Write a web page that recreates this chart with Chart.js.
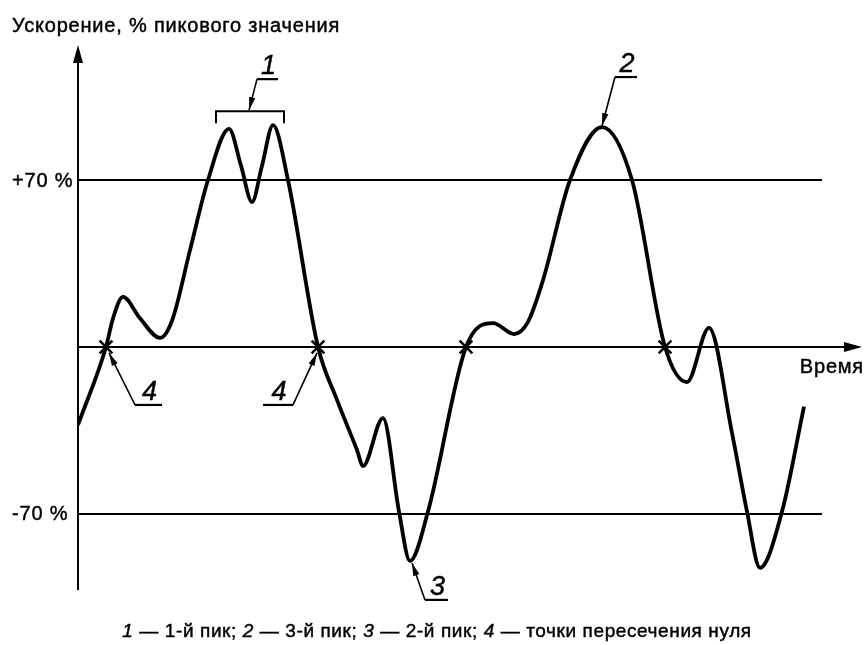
<!DOCTYPE html>
<html>
<head>
<meta charset="utf-8">
<script src="https://cdn.jsdelivr.net/npm/chart.js@4"></script>
<style>
  html, body { margin: 0; padding: 0; background: #fff; }
  #wrap { width: 864px; height: 645px; position: relative; }
</style>
</head>
<body>
<div id="wrap"><canvas id="accelChart" width="864" height="645"></canvas></div>
<script>
// Time (arbitrary units) and acceleration, % of peak value
const timeX = [0, 28, 35, 45, 62, 82, 94, 112, 130, 151,
               163, 174, 184, 195, 210, 240, 259, 279, 285, 305,
               321, 332, 350, 388, 415, 436, 450, 465, 492, 524,
               554, 587, 609, 631, 654, 669, 682, 704, 726];
const accel = [-32.7, 0, 12, 21, 12, 3.8, 11, 40.6, 70, 91.4,
               76, 60.8, 76, 93, 70, 0, -22.2, -43.2, -49.9, -29.8,
               -69, -89.7, -69, 0, 10, 5.4, 10.5, 28, 70, 92.2,
               70, 0, -14.7, 8, -36, -69, -92.6, -69, -25];

// Zero crossings marked with x
const crossX = [28, 240, 388, 587];

// Reference levels
const levelValues = [70, -70];
const levelLabels = ['+70 %', '-70 %'];
const levelEnd = 744;

const xMax = 784;
const yMin = -101.9;
const yMax = 126.6;

const caption = [
    ['1', true], [' — 1-й пик; ', false],
    ['2', true], [' — 3-й пик; ', false],
    ['3', true], [' — 2-й пик; ', false],
    ['4', true], [' — точки пересечения нуля', false]
];

const FONT = '"Liberation Sans", Arial, sans-serif';

function arrowHead(ctx, x1, y1, x2, y2, len, half) {
    // filled arrow at (x2, y2) pointing from (x1, y1)
    const a = Math.atan2(y2 - y1, x2 - x1);
    ctx.beginPath();
    ctx.moveTo(x2, y2);
    ctx.lineTo(x2 - len * Math.cos(a) + half * Math.sin(a), y2 - len * Math.sin(a) - half * Math.cos(a));
    ctx.lineTo(x2 - len * Math.cos(a) - half * Math.sin(a), y2 - len * Math.sin(a) + half * Math.cos(a));
    ctx.closePath();
    ctx.fill();
}

// text with a thin outline so it looks a bit heavier
function boldish(ctx, text, x, y) {
    ctx.fillText(text, x, y);
    ctx.lineWidth = 0.45;
    ctx.strokeText(text, x, y);
}

function leader(ctx, text, tipX, tipY, elbowX, elbowY, lineEndX) {
    // arrow from elbow to tip, underline from elbow to lineEndX
    ctx.lineWidth = 1.6;
    ctx.beginPath();
    ctx.moveTo(elbowX, elbowY);
    ctx.lineTo(tipX, tipY);
    ctx.stroke();
    arrowHead(ctx, elbowX, elbowY, tipX, tipY, 13, 3.2);
    ctx.lineWidth = 2.2;
    ctx.beginPath();
    ctx.moveTo(elbowX, elbowY);
    ctx.lineTo(lineEndX, elbowY);
    ctx.stroke();
    ctx.font = 'italic 27px ' + FONT;
    ctx.letterSpacing = '0px';
    ctx.textAlign = 'center';
    ctx.textBaseline = 'alphabetic';
    boldish(ctx, text, (elbowX + lineEndX) / 2 + 1, elbowY - 5);
}

const decorations = {
    id: 'decorations',
    afterDatasetsDraw(chart) {
        const ctx = chart.ctx;
        const xs = chart.scales.x;
        const ys = chart.scales.y;
        const area = chart.chartArea;
        const x0 = xs.getPixelForValue(0);
        const y0 = ys.getPixelForValue(0);

        ctx.save();
        ctx.strokeStyle = '#000';
        ctx.fillStyle = '#000';

        // axes
        ctx.lineWidth = 2;
        ctx.beginPath();
        ctx.moveTo(x0, area.bottom);
        ctx.lineTo(x0, area.top + 10);
        ctx.moveTo(x0, y0);
        ctx.lineTo(area.right - 10, y0);
        ctx.stroke();
        arrowHead(ctx, x0, area.bottom, x0, area.top, 18, 5);
        arrowHead(ctx, x0, y0, area.right, y0, 18, 5);

        // axis texts
        ctx.font = '20px ' + FONT;
        ctx.letterSpacing = '0.8px';
        ctx.textAlign = 'left';
        ctx.textBaseline = 'alphabetic';
        boldish(ctx, 'Ускорение, % пикового значения', 12, 32);
        ctx.textAlign = 'right';
        boldish(ctx, 'Время', 864, 373);
        ctx.textAlign = 'left';
        ctx.textBaseline = 'middle';
        levelValues.forEach((v, i) => {
            boldish(ctx, levelLabels[i], 12, ys.getPixelForValue(v) + 1);
        });

        // 1: bracket over the double peak
        const p1a = xs.getPixelForValue(timeX[9]);
        const p1b = xs.getPixelForValue(timeX[13]);
        const topY = ys.getPixelForValue(accel[13]);
        const bl = p1a - 13, br = p1b + 11, by = topY - 14;
        ctx.lineWidth = 2;
        ctx.beginPath();
        ctx.moveTo(bl, by + 12);
        ctx.lineTo(bl, by);
        ctx.lineTo(br, by);
        ctx.lineTo(br, by + 12);
        ctx.stroke();
        leader(ctx, '1', (bl + br) / 2 - 1, by - 1, (bl + br) / 2 + 7, by - 32, (bl + br) / 2 + 28);

        // 2: third peak
        const pk2x = xs.getPixelForValue(timeX[29]);
        const pk2y = ys.getPixelForValue(accel[29]);
        leader(ctx, '2', pk2x, pk2y - 1, pk2x + 13, pk2y - 50, pk2x + 35);

        // 3: second peak
        const pk3x = xs.getPixelForValue(timeX[21]);
        const pk3y = ys.getPixelForValue(accel[21]);
        leader(ctx, '3', pk3x + 2, pk3y + 2, pk3x + 15, pk3y + 39, pk3x + 38);

        // 4: zero crossings
        const c1 = xs.getPixelForValue(crossX[0]);
        const c2 = xs.getPixelForValue(crossX[1]);
        leader(ctx, '4', c1 + 3, y0 + 6, c1 + 29, y0 + 58, c1 + 56);
        leader(ctx, '4', c2 - 1, y0 + 6, c2 - 25, y0 + 58, c2 - 55);

        // caption
        ctx.textBaseline = 'alphabetic';
        ctx.textAlign = 'left';
        ctx.letterSpacing = '0.6px';
        const regular = '19px ' + FONT;
        const italic = 'italic 19px ' + FONT;
        let total = 0;
        caption.forEach(([t, it]) => {
            ctx.font = it ? italic : regular;
            total += ctx.measureText(t).width;
        });
        let cx = 437 - total / 2;
        caption.forEach(([t, it]) => {
            ctx.font = it ? italic : regular;
            boldish(ctx, t, cx, 637);
            cx += ctx.measureText(t).width;
        });

        ctx.restore();
    }
};

const curve = timeX.map((t, i) => ({ x: t, y: accel[i] }));
const crosses = crossX.map(t => ({ x: t, y: 0 }));
const levelSets = levelValues.map(v => ({
    data: [{ x: 0, y: v }, { x: levelEnd, y: v }],
    borderColor: '#000',
    borderWidth: 2,
    pointRadius: 0,
    fill: false
}));

new Chart(document.getElementById('accelChart'), {
    type: 'line',
    data: {
        datasets: [
            ...levelSets,
            {
                data: curve,
                borderColor: '#000',
                borderWidth: 3.8,
                pointRadius: 0,
                cubicInterpolationMode: 'monotone',
                fill: false
            },
            {
                data: crosses,
                showLine: false,
                pointStyle: 'crossRot',
                pointRadius: 9,
                pointBorderWidth: 2.5,
                pointBorderColor: '#000',
                borderColor: '#000'
            }
        ]
    },
    options: {
        responsive: false,
        animation: false,
        layout: { autoPadding: false, padding: { left: 78, right: 2, top: 45, bottom: 55 } },
        scales: {
            x: { type: 'linear', min: 0, max: xMax, display: false },
            y: { type: 'linear', min: yMin, max: yMax, display: false }
        },
        plugins: {
            legend: { display: false },
            tooltip: { enabled: false }
        }
    },
    plugins: [decorations]
});
</script>
</body>
</html>
